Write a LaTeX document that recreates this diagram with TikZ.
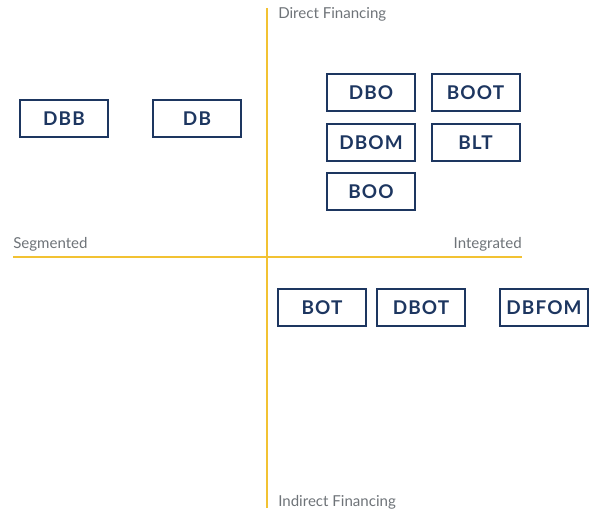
\documentclass[tikz,border=0pt]{standalone}
\usepackage{fontspec}
\setmainfont{Lato}
\newfontfamily\boxfont[LetterSpace=6]{Lato Bold}
\definecolor{axisyellow}{HTML}{F2C233}
\definecolor{navy}{HTML}{1D3660}
\definecolor{labelgray}{HTML}{6E7378}
\begin{document}
\begin{tikzpicture}[x=0.75pt,y=-0.75pt,
  model/.style={draw=navy,line width=1.5pt,minimum width=66pt,minimum height=27.5pt,
    inner sep=0pt,text=navy,font=\boxfont\fontsize{14.2}{16}\selectfont},
  axis/.style={draw=axisyellow,line width=1.4pt},
  axislabel/.style={text=labelgray,font=\fontsize{11.3}{13}\selectfont,inner sep=0pt}]
\useasboundingbox (0,0) rectangle (590,513);
% axes
\coordinate (top) at (267,8);
\coordinate (bottom) at (267,508);
\coordinate (left) at (13,257);
\coordinate (right) at (522,257);
\draw[axis] (top) -- (bottom);
\draw[axis] (left) -- (right);
% axis labels
\node[axislabel,anchor=west] (direct) at (278,14) {Direct Financing};
\node[axislabel,anchor=west] (indirect) at (278,502) {Indirect Financing};
\node[axislabel,anchor=west] (segmented) at (13,244) {Segmented};
\node[axislabel,anchor=east] (integrated) at (522,244) {Integrated};
% delivery models
\node[model] (dbb) at (64,118.5) {DBB};
\node[model] (db) at (197,118.5) {DB};
\node[model] (dbo) at (371,92.5) {DBO};
\node[model] (boot) at (475.5,92.5) {BOOT};
\node[model] (dbom) at (371,142.5) {DBOM};
\node[model] (blt) at (475.5,142.5) {BLT};
\node[model] (boo) at (371,191.5) {BOO};
\node[model] (bot) at (322,307.5) {BOT};
\node[model] (dbot) at (421,307.5) {DBOT};
\node[model] (dbfom) at (544,307.5) {DBFOM};
\end{tikzpicture}
\end{document}
